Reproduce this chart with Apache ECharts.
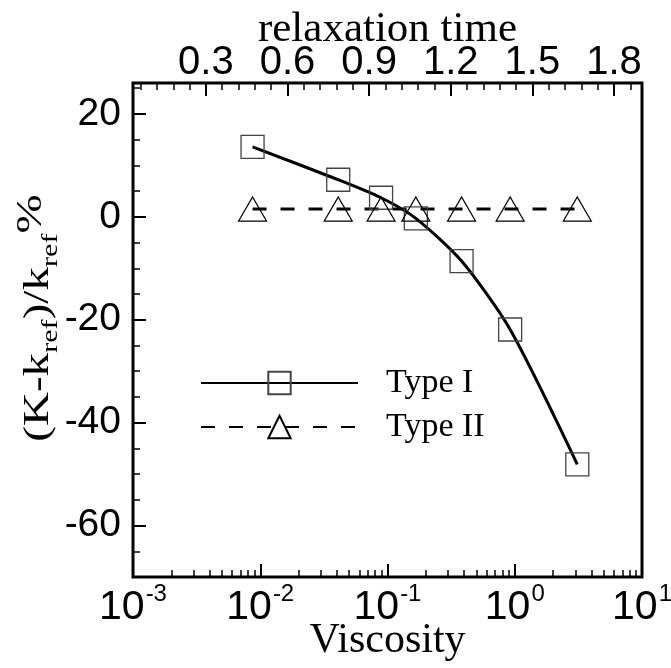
<!DOCTYPE html>
<html>
<head>
<meta charset="utf-8">
<script src="https://cdn.jsdelivr.net/npm/echarts@6/dist/echarts.min.js"></script>
<style>
  html, body { margin: 0; padding: 0; background: #fff; }
  #chart { width: 671px; height: 668px; }
</style>
</head>
<body>
<div id="chart"></div>
<script>
// Relative deviation of the permeability against viscosity (bottom, log) and relaxation time (top)
const viscosity = [0.0087, 0.041, 0.089, 0.167, 0.382, 0.92, 3.1];
const typeI = [13.6, 7.2, 3.7, -0.3, -8.6, -21.9, -48.1];
const typeII = [1.5, 1.5, 1.5, 1.5, 1.5, 1.5, 1.5];
const seriesNames = ['Type I', 'Type II'];

// Axis ticks and labels
const viscosityTicks = [0.001, 0.01, 0.1, 1, 10];
const relaxTicks = [0.3, 0.6, 0.9, 1.2, 1.5, 1.8];
const yTicks = [-60, -40, -20, 0, 20];

// Minor tick positions
const viscosityMinor = [];
[0.001, 0.01, 0.1, 1].forEach(d => { for (let m = 2; m <= 9; m++) viscosityMinor.push(+(d * m).toPrecision(3)); });
const relaxMinor = [];
for (let i = 1; i <= 31; i++) { if (i % 5 !== 0) relaxMinor.push(+(i * 0.06).toFixed(2)); }
const yMinor = [];
for (let v = -65; v <= 25; v += 5) { if (v % 20 !== 0) yMinor.push(v); }

const SANS = 'Liberation Sans';
const SERIF = 'Liberation Serif';
const BLACK = '#000';

const pairs = ys => viscosity.map((x, i) => [x, ys[i]]);

const chart = echarts.init(document.getElementById('chart'), null, { renderer: 'canvas' });

// Axis lines are replaced by the grid frame; keep every axis on its own edge
const noLine = { show: false, onZero: false };
const hidden = { show: false };

chart.setOption({
  backgroundColor: '#fff',
  animation: false,
  grid: {
    left: 133, top: 83, right: 29, bottom: 91,
    show: true, borderColor: BLACK, borderWidth: 3, backgroundColor: 'transparent',
    containLabel: false, outerBoundsMode: 'none'
  },
  // Vertical title with subscripts, slightly condensed across and stretched along its length
  graphic: [{
    type: 'text',
    x: 32, y: 318,
    rotation: Math.PI / 2,
    scaleX: 1.12, scaleY: 0.86,
    style: {
      text: '{n|(K-k}{sub|ref}{n|)/k}{sub|ref}{pct|%}',
      align: 'center', verticalAlign: 'middle',
      fill: BLACK,
      rich: {
        n: { fontFamily: SERIF, fontSize: 42, fill: BLACK, lineHeight: 42, padding: [8, 0, 6, 0], verticalAlign: 'top' },
        sub: { fontFamily: SERIF, fontSize: 27, fill: BLACK, lineHeight: 27, padding: [29, 0, 0, 0], verticalAlign: 'top' },
        pct: { fontFamily: SERIF, fontSize: 42, fill: BLACK, lineHeight: 42, padding: [0, 0, 14, 0], verticalAlign: 'top' }
      }
    }
  }],
  legend: {
    orient: 'vertical',
    left: 195, top: 361,
    itemWidth: 157, itemHeight: 28, itemGap: 10,
    textStyle: { fontFamily: SERIF, fontSize: 34, color: BLACK, padding: [0, 0, 0, 23] },
    data: seriesNames
  },
  xAxis: [
    {
      type: 'log', logBase: 10, min: 0.001, max: 10, position: 'bottom',
      name: 'Viscosity', nameLocation: 'middle', nameGap: 43, nameMoveOverlap: false,
      nameTextStyle: { fontFamily: SERIF, fontSize: 42, color: BLACK },
      axisLine: noLine, splitLine: hidden,
      axisTick: { inside: true, length: 13, lineStyle: { color: BLACK, width: 2 }, customValues: viscosityTicks },
      axisLabel: {
        margin: 5, customValues: viscosityTicks,
        formatter: v => '{b|10}{s|' + Math.round(Math.log10(v)) + '}',
        rich: {
          b: { fontFamily: SANS, fontSize: 41, color: BLACK, lineHeight: 41, padding: [5, 0, 0, 0], verticalAlign: 'top' },
          s: { fontFamily: SANS, fontSize: 24, color: BLACK, lineHeight: 24, padding: [0, 0, 22, 1], verticalAlign: 'top' }
        }
      }
    },
    {
      type: 'log', logBase: 10, min: 0.001, max: 10, position: 'bottom',
      axisLine: noLine, splitLine: hidden, axisLabel: hidden,
      axisTick: { inside: true, length: 7, lineStyle: { color: BLACK, width: 1.5 }, customValues: viscosityMinor }
    },
    {
      type: 'value', min: 0.032, max: 1.903, position: 'top',
      name: 'relaxation time', nameLocation: 'middle', nameGap: 32, nameMoveOverlap: false,
      nameTextStyle: { fontFamily: SERIF, fontSize: 43, color: BLACK },
      axisLine: noLine, splitLine: hidden,
      axisTick: { inside: true, length: 13, lineStyle: { color: BLACK, width: 2 }, customValues: relaxTicks },
      axisLabel: {
        margin: 0, customValues: relaxTicks,
        fontFamily: SANS, fontSize: 40, color: BLACK,
        formatter: v => v.toFixed(1)
      }
    },
    {
      type: 'value', min: 0.032, max: 1.903, position: 'top',
      axisLine: noLine, splitLine: hidden, axisLabel: hidden,
      axisTick: { inside: true, length: 7, lineStyle: { color: BLACK, width: 1.5 }, customValues: relaxMinor }
    }
  ],
  yAxis: [
    {
      type: 'value', min: -70, max: 26, position: 'left',
      axisLine: noLine, splitLine: hidden,
      axisTick: { inside: true, length: 13, lineStyle: { color: BLACK, width: 2 }, customValues: yTicks },
      axisLabel: { margin: 12, customValues: yTicks, fontFamily: SANS, fontSize: 39, color: BLACK }
    },
    {
      type: 'value', min: -70, max: 26, position: 'left',
      axisLine: noLine, splitLine: hidden, axisLabel: hidden,
      axisTick: { inside: true, length: 7, lineStyle: { color: BLACK, width: 1.5 }, customValues: yMinor }
    }
  ],
  series: [
    {
      name: seriesNames[0], type: 'line', xAxisIndex: 0, yAxisIndex: 0,
      data: pairs(typeI), smooth: 0.25,
      symbol: 'rect', symbolSize: 23,
      lineStyle: { color: BLACK, width: 3, type: 'solid' },
      itemStyle: { color: 'rgba(0,0,0,0)', borderColor: '#444', borderWidth: 1.3 },
      z: 3
    },
    {
      name: seriesNames[1], type: 'line', xAxisIndex: 0, yAxisIndex: 0,
      data: pairs(typeII),
      symbol: 'triangle', symbolSize: [28, 24],
      lineStyle: { color: BLACK, width: 3, type: [14, 14] },
      itemStyle: { color: 'rgba(0,0,0,0)', borderColor: BLACK, borderWidth: 1.2 },
      z: 3
    }
  ]
});
</script>
</body>
</html>
